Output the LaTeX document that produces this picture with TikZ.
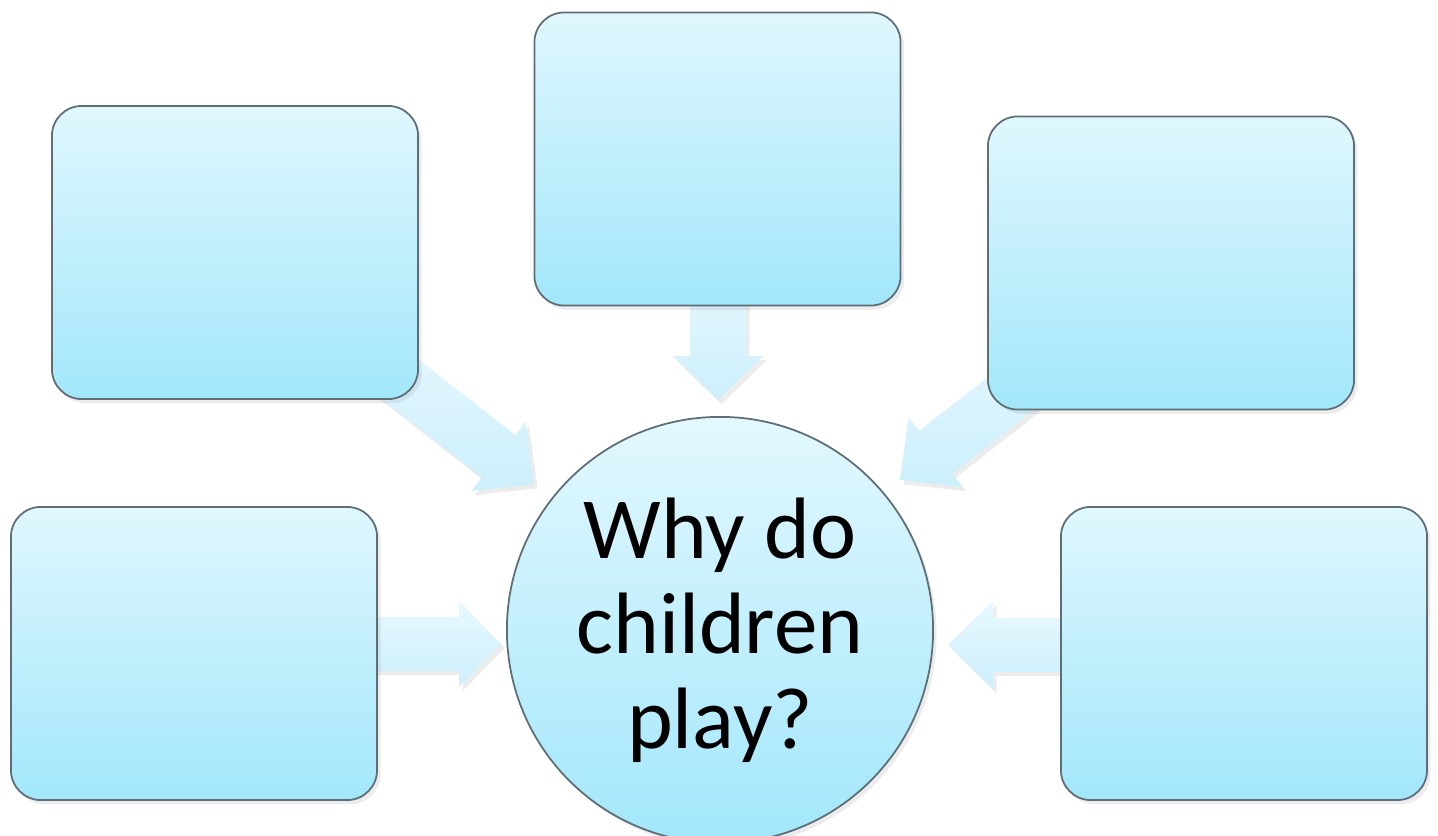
\documentclass[tikz,border=0pt]{standalone}
\usepackage{fontspec}
\setmainfont{Carlito}
\usetikzlibrary{shadows}
\definecolor{boxtop}{HTML}{E0F7FE}
\definecolor{boxbot}{HTML}{A2E7FB}
\definecolor{boxline}{HTML}{5E6E74}
\definecolor{arrtop}{HTML}{E8F8FE}
\definecolor{arrbot}{HTML}{CCEFFB}
\begin{document}
\begin{tikzpicture}[x=0.01cm,y=-0.01cm,
  soft shadow/.style={drop shadow={opacity=0.15,shadow xshift=1pt,shadow yshift=-1.2pt}},
  ibox/.style={draw=boxline,line width=0.5pt,rounded corners=0.3cm,
    top color=boxtop,bottom color=boxbot,minimum width=3.66cm,minimum height=2.93cm,
    inner sep=0pt,soft shadow},
  hub/.style={circle,draw=boxline,line width=0.5pt,top color=boxtop!90!white,bottom color=boxbot,
    minimum size=4.26cm,inner sep=0pt,align=center,
    font=\fontsize{24.8}{27}\selectfont,soft shadow},
  blockarrow/.style={top color=arrtop,bottom color=arrbot,draw=none,soft shadow}]
\useasboundingbox (0,0) rectangle (1438,836);
% arrow tips
\coordinate (t1) at (534,484);
\coordinate (t2) at (718,400);
\coordinate (t3) at (900,480);
\coordinate (t4) at (501,644);
\coordinate (t5) at (948,645);
% block arrows (drawn under the boxes)
\begin{scope}[shift={(t1)},rotate=-38]
  \path[blockarrow] (0,0) -- (-45,44) -- (-45,27) -- (-230,27) -- (-230,-27) -- (-45,-27) -- (-45,-44) -- cycle;
\end{scope}
\begin{scope}[shift={(t2)},rotate=-90]
  \path[blockarrow] (0,0) -- (-44,45) -- (-44,28) -- (-130,28) -- (-130,-28) -- (-44,-28) -- (-44,-45) -- cycle;
\end{scope}
\begin{scope}[shift={(t3)},rotate=-142]
  \path[blockarrow] (0,0) -- (-45,44) -- (-45,27) -- (-230,27) -- (-230,-27) -- (-45,-27) -- (-45,-44) -- cycle;
\end{scope}
\begin{scope}[shift={(t4)}]
  \path[blockarrow] (0,0) -- (-42,43) -- (-42,27) -- (-170,27) -- (-170,-27) -- (-42,-27) -- (-42,-43) -- cycle;
\end{scope}
\begin{scope}[shift={(t5)},rotate=180]
  \path[blockarrow] (0,0) -- (-45,44) -- (-45,27) -- (-170,27) -- (-170,-27) -- (-45,-27) -- (-45,-44) -- cycle;
\end{scope}
% boxes
\node[ibox] (tl) at (235,252.5) {};
\node[ibox] (tc) at (717.5,159) {};
\node[ibox] (tr) at (1171,263) {};
\node[ibox] (bl) at (194,653.5) {};
\node[ibox] (br) at (1244,653.5) {};
% hub
\node[hub] (c) at (720,630) {Why do\\children\\play?};
\end{tikzpicture}
\end{document}
